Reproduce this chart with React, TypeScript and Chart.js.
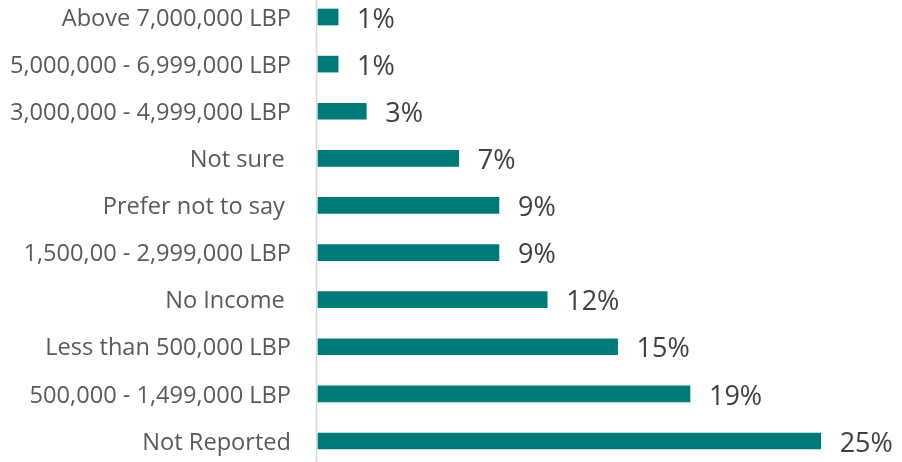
import React, { useEffect, useRef } from "react";
import { Chart, registerables } from "chart.js";

Chart.register(...registerables);

const categories = [
  "Above 7,000,000 LBP",
  "5,000,000 - 6,999,000 LBP",
  "3,000,000 - 4,999,000 LBP",
  "Not sure ",
  "Prefer not to say ",
  "1,500,00 - 2,999,000 LBP",
  "No Income ",
  "Less than 500,000 LBP",
  "500,000 - 1,499,000 LBP",
  "Not Reported",
];
const values = [1, 1, 2.4, 7, 9, 9, 11.4, 14.9, 18.5, 25];
const valueLabels = ["1%", "1%", "3%", "7%", "9%", "9%", "12%", "15%", "19%", "25%"];

const BAR_COLOR = "#007A78";
const FONT = "'Open Sans', 'DejaVu Sans', sans-serif";

export default function App() {
  const ref = useRef<HTMLCanvasElement | null>(null);

  useEffect(() => {
    if (!ref.current) return;
    const valuePlugin = {
      id: "valueLabels",
      afterDatasetsDraw(chart: any) {
        const ctx = chart.ctx;
        const meta = chart.getDatasetMeta(0);
        ctx.save();
        ctx.font = `27px ${FONT}`;
        ctx.fillStyle = "#404040";
        ctx.textAlign = "left";
        ctx.textBaseline = "middle";
        meta.data.forEach((bar: any, i: number) => {
          ctx.fillText(valueLabels[i], bar.x + 19, bar.y + 3);
        });
        ctx.restore();
      },
    };
    const axisLinePlugin = {
      id: "axisLine",
      beforeDatasetsDraw(chart: any) {
        const ctx = chart.ctx;
        const x = Math.round(chart.scales.x.getPixelForValue(0)) - 1.5;
        ctx.save();
        ctx.strokeStyle = "#D9D9D9";
        ctx.lineWidth = 1.5;
        ctx.beginPath();
        ctx.moveTo(x, 0);
        ctx.lineTo(x, chart.height);
        ctx.stroke();
        ctx.restore();
      },
    };
    const chart = new Chart(ref.current, {
      type: "bar",
      data: {
        labels: categories,
        datasets: [
          {
            data: values,
            backgroundColor: BAR_COLOR,
            barThickness: 16,
            clip: false as any,
          },
        ],
      },
      options: {
        indexAxis: "y",
        animation: false,
        responsive: true,
        maintainAspectRatio: false,
        layout: { padding: { top: 17, bottom: 21, left: 0, right: 21 } },
        plugins: { legend: { display: false }, tooltip: { enabled: false } },
        scales: {
          x: {
            min: 0,
            max: 28,
            display: false,
            grid: { display: false },
          },
          y: {
            offset: false,
            grid: { display: false, drawTicks: false },
            border: { display: false },
            afterFit: (s: any) => {
              s.width = 318;
              s.paddingTop = 0;
              s.paddingBottom = 0;
            },
            ticks: {
              padding: 27,
              labelOffset: 2,
              color: "#595959",
              font: { family: FONT, size: 23.6 },
            },
          },
        },
      },
      plugins: [valuePlugin, axisLinePlugin],
    });
    return () => chart.destroy();
  }, []);

  return (
    <div style={{ position: "fixed", left: 0, top: 0, width: 902, height: 462, background: "#fff" }}>
      <canvas ref={ref} />
    </div>
  );
}
